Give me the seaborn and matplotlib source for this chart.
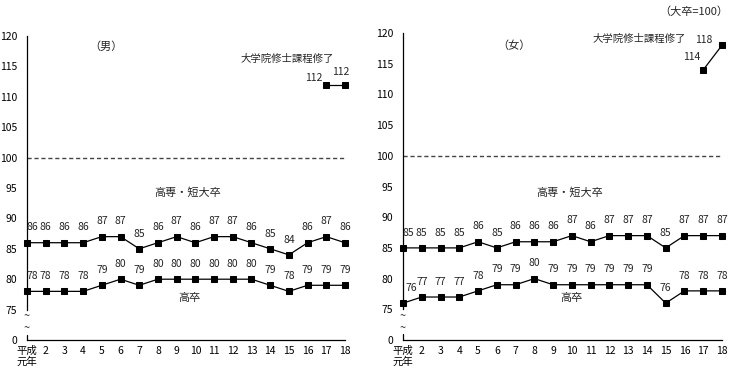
import matplotlib
matplotlib.use('Agg')
import matplotlib.pyplot as plt
import seaborn as sns

sns.set_theme(style='white')
plt.rcParams['font.family'] = ['Noto Sans CJK JP', 'DejaVu Sans']

years = list(range(1, 19))
year_labels = ['平成\n元年'] + [str(y) for y in range(2, 19)]

# 男
male_tanki = [86, 86, 86, 86, 87, 87, 85, 86, 87, 86, 87, 87, 86, 85, 84, 86, 87, 86]
male_kousotsu = [78, 78, 78, 78, 79, 80, 79, 80, 80, 80, 80, 80, 80, 79, 78, 79, 79, 79]
male_in_years = [17, 18]
male_in = [112, 112]

# 女
female_tanki = [85, 85, 85, 85, 86, 85, 86, 86, 86, 87, 86, 87, 87, 87, 85, 87, 87, 87]
female_kousotsu = [76, 77, 77, 77, 78, 79, 79, 80, 79, 79, 79, 79, 79, 79, 76, 78, 78, 78]
female_in_years = [17, 18]
female_in = [114, 118]

fig = plt.figure(figsize=(7.3, 3.7), dpi=100)
ax1 = fig.add_axes([27/730, 1-340/370, 318/730, 304/370])
ax2 = fig.add_axes([403/730, 1-340/370, 319/730, 307/370])

FS = 7.5


def draw_series(ax, xs, ys, offsets=None):
    sns.lineplot(x=xs, y=ys, ax=ax, color='black', lw=0.9, marker='s',
                 markersize=4.6, markeredgecolor='black', clip_on=False)
    for i, (x, y) in enumerate(zip(xs, ys)):
        dx, dy = (0, 11)
        if offsets and i in offsets:
            dx, dy = offsets[i]
        ax.annotate(str(y), (x, y), xytext=(dx, dy), textcoords='offset points',
                    ha='center', va='center', fontsize=FS)


def setup(ax):
    ax.set_xlim(1, 18)
    ax.set_ylim(70, 120)
    ax.set_xticks(years)
    ax.set_xticklabels(year_labels, fontsize=FS, linespacing=1.05)
    ax.set_yticks([70, 75, 80, 85, 90, 95, 100, 105, 110, 115, 120])
    ax.set_yticklabels(['0', '75', '80', '85', '90', '95', '100', '105', '110', '115', '120'],
                       fontsize=FS)
    ax.tick_params(axis='both', direction='in', length=3, width=0.8, colors='black')
    ax.tick_params(axis='y', pad=7)
    ax.tick_params(axis='x', pad=4)
    for s in ['top', 'right']:
        ax.spines[s].set_visible(False)
    for s in ['left', 'bottom']:
        ax.spines[s].set_color('black')
        ax.spines[s].set_linewidth(0.9)
    ax.spines['left'].set_bounds(75, 120)
    ax.axvline(1, 0, 0.018, color='black', lw=0.9, clip_on=False)
    ax.axhline(100, ls=(0, (3, 2)), color='#444444', lw=1)
    ax.text(1, 73.9, '~', ha='center', va='center', fontsize=8)
    ax.text(1, 71.9, '~', ha='center', va='center', fontsize=8)
    ax.set_xlabel('')
    ax.set_ylabel('')


setup(ax1)
draw_series(ax1, years, male_tanki, {0: (4, 11)})
draw_series(ax1, years, male_kousotsu, {0: (4, 11)})
draw_series(ax1, male_in_years, male_in, {0: (-9, 5), 1: (-3, 9)})
ax1.text(5.2, 118.2, '（男）', ha='center', va='center', fontsize=8)
ax1.text(14.9, 116.2, '大学院修士課程修了', ha='center', va='center', fontsize=FS)
ax1.text(9.6, 94.2, '高専・短大卒', ha='center', va='center', fontsize=8)
ax1.text(9.7, 76.9, '高卒', ha='center', va='center', fontsize=8)

setup(ax2)
draw_series(ax2, years, female_tanki, {0: (4, 11)})
draw_series(ax2, years, female_kousotsu, {0: (6, 11)})
draw_series(ax2, female_in_years, female_in, {0: (-8, 9), 1: (-13, 4)})
ax2.text(6.9, 117.9, '（女）', ha='center', va='center', fontsize=8)
ax2.text(13.6, 119.0, '大学院修士課程修了', ha='center', va='center', fontsize=FS)
ax2.text(9.9, 94.1, '高専・短大卒', ha='center', va='center', fontsize=8)
ax2.text(10.0, 76.8, '高卒', ha='center', va='center', fontsize=8)

fig.text(0.997, 1-12/370, '（大卒=100）', ha='right', va='center', fontsize=8)

fig.savefig('out.png', dpi=100)
